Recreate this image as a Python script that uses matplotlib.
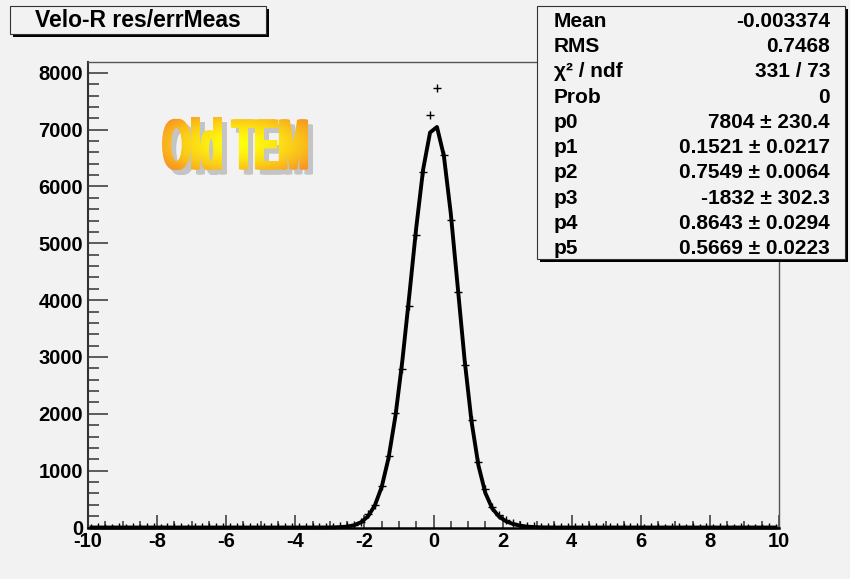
import numpy as np
import matplotlib
matplotlib.use("Agg")
import matplotlib.pyplot as plt
from matplotlib.patches import Rectangle, PathPatch
from matplotlib.textpath import TextPath
from matplotlib.font_manager import FontProperties
from matplotlib.transforms import Affine2D
from matplotlib.ticker import MultipleLocator

plt.rcParams['font.family'] = ['Liberation Sans', 'DejaVu Sans']
plt.rcParams['font.weight'] = 'bold'
plt.rcParams['axes.unicode_minus'] = False

# histogram: 100 bins from -10 to 10
X_LO, X_HI, N_BINS = -10.0, 10.0, 100
counts = [0, 1, 0, 0, 1, 0, 1, 0, 2, 1,
          0, 1, 2, 1, 0, 2, 1, 3, 2, 1,
          3, 2, 4, 3, 5, 4, 6, 5, 7, 6,
          8, 9, 11, 12, 15, 16, 22, 31, 52, 104,
          236, 402, 738, 1262, 2021, 2795, 3905, 5150, 6260, 7260,
          7730, 6545, 5410, 4150, 2860, 1890, 1150, 672, 365, 212,
          125, 78, 46, 30, 21, 17, 13, 11, 9, 7,
          8, 5, 6, 4, 3, 4, 2, 3, 1, 2,
          0, 2, 1, 0, 1, 1, 0, 1, 0, 1,
          0, 1, 0, 0, 1, 0, 0, 0, 1, 0]

# fitted curve read at the bin centres
fit_vals = [0] * 32 + [0.2, 0.6, 1.0, 2.2, 6.2, 16, 40, 91,
            194, 385, 712, 1226, 1968, 2941, 4086, 5273, 6300, 6949,
            7047, 6540, 5527, 4240, 2950, 1868, 1093, 608, 336, 190,
            110, 62, 33, 16, 7.5, 3.0, 1.1, 0.3] + [0] * 32

title = "Velo-R res/errMeas"
stat_names = ["Mean", "RMS", "\u03c7\u00b2 / ndf", "Prob", "p0", "p1", "p2", "p3", "p4", "p5"]
stat_vals = ["-0.003374", "0.7468", "331 / 73", "0",
             "7804 \u00b1 230.4", "0.1521 \u00b1 0.0217", "0.7549 \u00b1 0.0064",
             "-1832 \u00b1 302.3", "0.8643 \u00b1 0.0294", "0.5669 \u00b1 0.0223"]
x_ticks = [-10, -8, -6, -4, -2, 0, 2, 4, 6, 8, 10]
y_ticks = [0, 1000, 2000, 3000, 4000, 5000, 6000, 7000, 8000]

W, H = 850, 579
BG = '#f2f2f2'


def fx(x):
    return x / W


def fy(y):
    return 1 - y / H


fig = plt.figure(figsize=(W / 100, H / 100), dpi=100, facecolor=BG)
ax = fig.add_axes([fx(88), fy(527.5), (779 - 88) / W, (527.5 - 62) / H])
ax.set_facecolor(BG)

width = (X_HI - X_LO) / N_BINS
centers = np.linspace(X_LO + width / 2, X_HI - width / 2, N_BINS)

ax.plot(centers, counts, ls='none', marker='+', ms=5.5, mew=1.0, color='black', zorder=3)
ax.plot(centers, fit_vals, color='black', lw=2.8, zorder=4, clip_on=False)

ax.set_xlim(X_LO, X_HI)
ax.set_ylim(0, 8190)
ax.set_xticks(x_ticks)
ax.set_xticklabels([str(v) for v in x_ticks])
ax.set_yticks(y_ticks)
ax.set_yticklabels([str(v) for v in y_ticks])
ax.xaxis.set_minor_locator(MultipleLocator(0.5))
ax.yaxis.set_minor_locator(MultipleLocator(200))
ax.tick_params(axis='both', which='both', direction='in', color='#333333', width=1.1,
               labelsize=14.5, pad=3.5)
ax.tick_params(axis='x', which='major', length=9.5)
ax.tick_params(axis='x', which='minor', length=5)
ax.tick_params(axis='y', which='major', length=14.5)
ax.tick_params(axis='y', which='minor', length=7.8)
for lab in ax.get_xticklabels() + ax.get_yticklabels():
    lab.set_fontweight('bold')
ax.spines['left'].set_linewidth(1.5)
ax.spines['left'].set_color('#333333')
ax.spines['bottom'].set_linewidth(1.8)
ax.spines['bottom'].set_color('black')
for s in ['top', 'right']:
    ax.spines[s].set_linewidth(1.0)
    ax.spines[s].set_color('#555555')


def shadow_box(x1, y1, x2, y2, off):
    fig.add_artist(Rectangle((fx(x1 + off), fy(y2 + off)), (x2 - x1) / W, (y2 - y1) / H,
                             transform=fig.transFigure, facecolor='black', edgecolor='none'))
    fig.add_artist(Rectangle((fx(x1), fy(y2)), (x2 - x1) / W, (y2 - y1) / H,
                             transform=fig.transFigure, facecolor=BG, edgecolor='#333333', lw=0.8))


# title box
shadow_box(10, 6, 266, 34, 3)
fig.text(fx(138), fy(20.5), title, ha='center', va='center', fontsize=16.5, fontweight='bold')

# stats box
shadow_box(537, 6, 845, 259, 3)
for i, (name, val) in enumerate(zip(stat_names, stat_vals)):
    yb = 26.7 + 25.3 * i
    fig.text(fx(554), fy(yb), name, ha='left', va='baseline', fontsize=15, fontweight='bold')
    fig.text(fx(830), fy(yb), val, ha='right', va='baseline', fontsize=15, fontweight='bold')

# "Old TEM" label: tall heavy letters, gradient fill, grey shadow
TX0, TX1, TY0, TY1 = 162, 308, 117, 170
tw, th = TX1 - TX0, TY1 - TY0
tax = fig.add_axes([fx(TX0), fy(TY1), tw / W, th / H])
tax.set_xlim(0, 1)
tax.set_ylim(0, 1)
tax.axis('off')
tp = TextPath((0, 0), "Old TEM", size=1, prop=FontProperties(family='Liberation Sans', weight='bold'))
ext = tp.get_extents()
grow = 4  # px of horizontal thickening
norm = Affine2D().translate(-ext.x0, -ext.y0).scale((tw - grow) / tw / ext.width, 1 / ext.height)
path = norm.transform_path(tp)

gx, gy = np.meshgrid(np.linspace(0, 1, 200), np.linspace(0, 1, 100))
d = np.clip(np.sqrt(((gx - 0.52) / 0.62) ** 2 + ((gy - 0.5) / 0.7) ** 2), 0, 1) ** 1.6
yellow = np.array([1.0, 1.0, 0.05])
orange = np.array([0.97, 0.58, 0.14])
img = yellow[None, None, :] * (1 - d[..., None]) + orange[None, None, :] * d[..., None]

for k in range(grow + 1):
    sp = Affine2D().translate((k + 5) / tw, -5 / th).transform_path(path)
    tax.add_patch(PathPatch(sp, facecolor='#c4c4c4', edgecolor='none', clip_on=False, zorder=1))
for k in range(grow + 1):
    sp = Affine2D().translate(k / tw, 0).transform_path(path)
    clip = PathPatch(sp, facecolor='none', edgecolor='none')
    tax.add_patch(clip)
    im = tax.imshow(img, extent=(0, 1, 0, 1), origin='lower', aspect='auto', zorder=2)
    im.set_clip_path(clip)

fig.savefig("out.png", dpi=100, facecolor=BG)
